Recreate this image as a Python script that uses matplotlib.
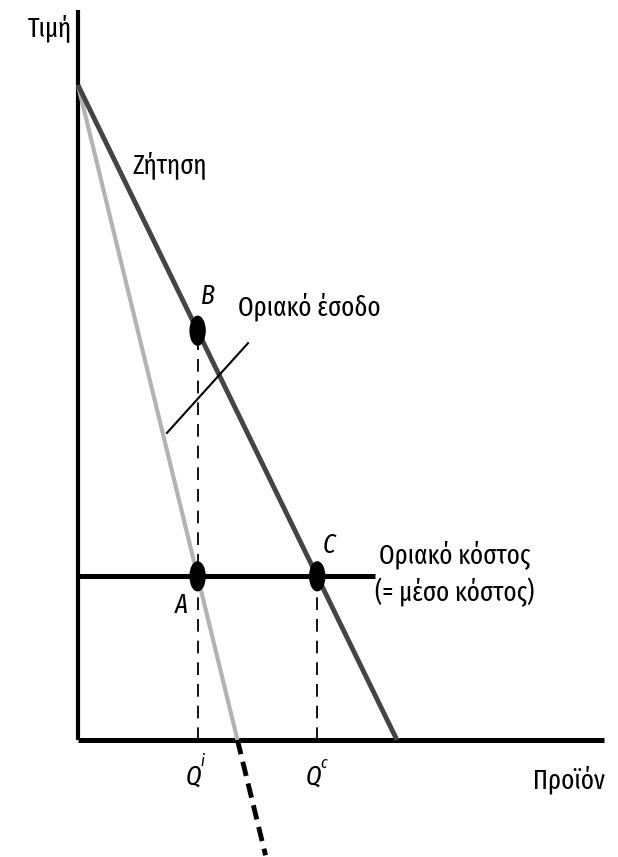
import numpy as np
import matplotlib
matplotlib.use('Agg')
from matplotlib import pyplot as plt
from matplotlib.patches import Ellipse

plt.rcParams['font.family'] = ['Fira Sans Extra Condensed', 'Open Sans Condensed', 'DejaVu Sans']

# diagram data (quantity, price units)
demand_q = [0, 10]          # P = 10 - Q
demand_p = [10, 0]
mr_q = [0, 5]               # P = 10 - 2Q
mr_p = [10, 0]
mr_neg_q = [5, 5.88]        # part of MR below zero
mr_neg_p = [0, -1.76]
mc_q = [0, 9.3]
mc_p = [2.5, 2.5]
q_max, p_max = 16.5, 11.15

# points A, B, C
q_i = 3.75
q_c = 7.5
pts_q = [q_i, q_i, q_c]
pts_p = [2.5, 6.25, 2.5]

fig = plt.figure(figsize=(6.18, 8.57), dpi=100)
ax = fig.add_axes([0, 0, 1, 1])
ax.set_xlim(-2.445, 16.93)
ax.set_ylim(-1.786, 11.30)
ax.axis('off')

# axes
ax.plot([0, 0], [0, p_max], c='black', lw=3, solid_capstyle='butt')
ax.plot([0, q_max], [0, 0], c='black', lw=3.6, solid_capstyle='butt')

# curves
ax.plot(mr_q, mr_p, c='#b3b3b3', lw=3, solid_capstyle='butt')
ax.plot(mr_neg_q, mr_neg_p, c='black', lw=3.5, ls=(0, (3, 1.6)))
ax.plot(demand_q, demand_p, c='#444444', lw=3.5, solid_capstyle='butt')
ax.plot(mc_q, mc_p, c='black', lw=3.6, solid_capstyle='butt')

# dashed guides
ax.plot([q_i, q_i], [0, 6.25], c='black', lw=1.3, ls=(0, (7, 5)))
ax.plot([q_c, q_c], [0, 2.5], c='black', lw=1.3, ls=(0, (7, 5)))

# leader line for MR label
ax.plot([2.79, 5.33], [4.69, 6.06], c='black', lw=1.5)

for q, p in zip(pts_q, pts_p):
    ax.add_patch(Ellipse((q, p), 0.47, 0.44, color='black', zorder=5))

fs = 19.5
ax.text(-0.88, 10.87, 'Τιμή', fontsize=fs, ha='center', va='center')
ax.text(1.72, 8.78, 'Ζήτηση', fontsize=fs, ha='left', va='center')
ax.text(4.08, 6.78, 'B', fontsize=fs, style='italic', ha='center', va='center')
ax.text(5.02, 6.62, 'Οριακό έσοδο', fontsize=fs, ha='left', va='center')
ax.text(7.87, 2.97, 'C', fontsize=fs, style='italic', ha='center', va='center')
ax.text(3.23, 2.06, 'A', fontsize=fs, style='italic', ha='center', va='center')
ax.text(11.82, 3.05, 'Οριακό κόστος\n(= μέσο κόστος)', fontsize=fs,
        ha='center', va='top', multialignment='center', linespacing=1.35)

ax.text(q_i - 0.13, -0.56, 'Q', fontsize=fs, style='italic', ha='center', va='center')
ax.text(q_i + 0.1, -0.33, 'i', fontsize=12, style='italic', ha='left', va='center')
ax.text(q_c - 0.13, -0.56, 'Q', fontsize=fs, style='italic', ha='center', va='center')
ax.text(q_c + 0.1, -0.35, 'c', fontsize=12, style='italic', ha='left', va='center')
ax.text(16.52, -0.61, 'Προϊόν', fontsize=fs, ha='right', va='center')

fig.savefig('out.png', dpi=100)
